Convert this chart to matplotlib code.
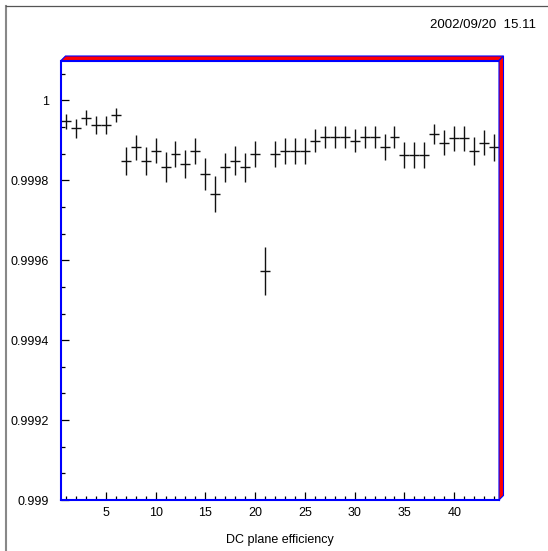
"""
DC plane efficiency per plane, PAW-style frame
"""
import numpy as np
import matplotlib
matplotlib.use("Agg")
import matplotlib.pyplot as plt
from matplotlib.patches import Polygon
from matplotlib.lines import Line2D
from matplotlib.ticker import FixedLocator, MultipleLocator, FormatStrFormatter

plt.rcParams["font.family"] = ["Liberation Sans", "DejaVu Sans"]
plt.rcParams["font.size"] = 9

planes = np.arange(1, 45)
eff = [0.999948, 0.999930, 0.999957, 0.999938, 0.999938, 0.999964,
       0.999849, 0.999883, 0.999849, 0.999874, 0.999833, 0.999866,
       0.999841, 0.999874, 0.999816, 0.999766, 0.999833, 0.999849,
       0.999833, 0.999866, 0.999573, 0.999866, 0.999874, 0.999874,
       0.999874, 0.999899, 0.999908, 0.999908, 0.999908, 0.999899,
       0.999908, 0.999908, 0.999883, 0.999908, 0.999863, 0.999863,
       0.999863, 0.999915, 0.999894, 0.999905, 0.999905, 0.999873,
       0.999894, 0.999883]
err = [0.0000188, 0.0000240, 0.0000196, 0.0000220, 0.0000220, 0.0000180,
       0.0000350, 0.0000310, 0.0000350, 0.0000310, 0.0000370, 0.0000330,
       0.0000355, 0.0000320, 0.0000395, 0.0000445, 0.0000367, 0.0000362,
       0.0000367, 0.0000330, 0.0000592, 0.0000330, 0.0000320, 0.0000320,
       0.0000320, 0.0000290, 0.0000280, 0.0000280, 0.0000280, 0.0000290,
       0.0000280, 0.0000280, 0.0000320, 0.0000270, 0.0000325, 0.0000325,
       0.0000325, 0.0000250, 0.0000317, 0.0000305, 0.0000305, 0.0000350,
       0.0000317, 0.0000333]
yticks = [0.999, 0.9992, 0.9994, 0.9996, 0.9998, 1.0]
stamp = "2002/09/20  15.11"
xtitle = "DC plane efficiency"

W, H = 548, 551
fig = plt.figure(figsize=(W / 100, H / 100), dpi=100)


def fpos(px, py):
    return (px / W, 1 - py / H)


# frame box in pixels
x0, x1, ytop, ybot = 61, 499, 60.5, 500
ax = fig.add_axes([x0 / W, 1 - ybot / H, (x1 - x0) / W, (ybot - ytop) / H])

ax.errorbar(planes, eff, xerr=0.5, yerr=err, fmt="none",
            ecolor="#111111", elinewidth=1.0, capsize=0)

ax.set_xlim(0.5, 44.5)
ax.set_ylim(0.999, 1.0001)
ax.xaxis.set_major_locator(MultipleLocator(5))
ax.xaxis.set_minor_locator(MultipleLocator(1))
ax.yaxis.set_major_locator(FixedLocator(yticks))
ax.yaxis.set_minor_locator(FixedLocator(0.999 + np.arange(17) * 0.0002 / 3))
ax.yaxis.set_major_formatter(FormatStrFormatter("%g"))
ax.tick_params(which="both", direction="in", top=False, right=False,
               color="black", width=0.9)
ax.tick_params(which="major", length=5.8)
ax.tick_params(which="minor", length=2.9)
ax.tick_params(axis="y", which="major", pad=8.5, labelsize=9)
ax.tick_params(axis="x", which="major", pad=5, labelsize=9)
ax.set_xlabel(xtitle, fontsize=9, labelpad=10.5)

for side in ["left", "bottom"]:
    ax.spines[side].set_color("blue")
    ax.spines[side].set_linewidth(1.5)
for side in ["top", "right"]:
    ax.spines[side].set_color("blue")
    ax.spines[side].set_linewidth(0.8)

# shaded 3D edge on top and right of the frame
d = 4.5
top_band = [fpos(x0, ytop), fpos(x0 + d, ytop - d), fpos(x1 + d, ytop - d), fpos(x1, ytop)]
right_band = [fpos(x1, ytop), fpos(x1 + d, ytop - d), fpos(x1 + d, ybot - d), fpos(x1, ybot)]
for band in [top_band, right_band]:
    fig.add_artist(Polygon(band, closed=True, facecolor="red", edgecolor="blue",
                           linewidth=0.8, transform=fig.transFigure))

# canvas border
fig.add_artist(Line2D([5.5 / W, 5.5 / W], [1 - 5.5 / H, 0], color="#888888",
                      linewidth=1.5, transform=fig.transFigure))
fig.add_artist(Line2D([5.5 / W, 1], [1 - 5.5 / H, 1 - 5.5 / H], color="#555555",
                      linewidth=0.9, transform=fig.transFigure))

fig.text(536.5 / W, 1 - 25.3 / H, stamp, ha="right", va="center", fontsize=9.5)

fig.savefig("out.png", dpi=100)
